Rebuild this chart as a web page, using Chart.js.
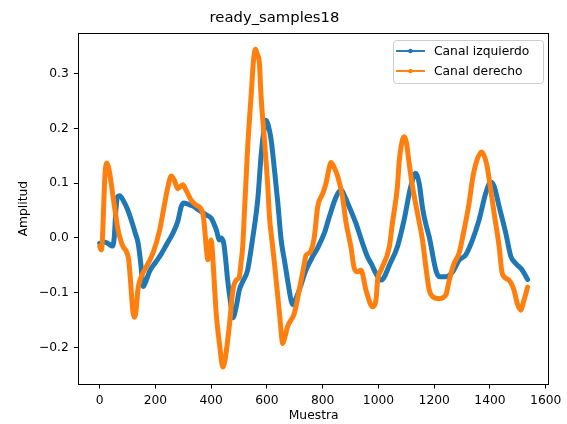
<!DOCTYPE html>
<html lang="es">
<head>
<meta charset="UTF-8">
<title>ready_samples18</title>
<script src="https://cdn.jsdelivr.net/npm/chart.js"></script>
<style>
    body {
        margin: 0;
        background: #ffffff;
    }

    #wrap {
        width: 567px;
        height: 424px;
    }
</style>
</head>
<body>
<div id="wrap">
    <canvas id="senal" width="567" height="424"></canvas>
</div>
<script>
    // Canal izquierdo: índice de muestra y amplitud
    const muestrasIzq = [
        0, 20, 35, 45, 52, 58, 64, 72, 85, 100,
        115, 128, 138, 148, 156, 165, 180, 200, 220, 240,
        262, 280, 293, 302, 315, 335, 358, 382, 400, 418,
        430, 436, 445, 452, 459, 470, 478, 490, 501, 515,
        530, 549, 567, 579, 590, 597, 605, 615, 627, 639,
        651, 664, 674, 687, 693, 705, 716, 740, 764, 781,
        806, 824, 848, 866, 880, 895, 919, 943, 961, 975,
        991, 1009, 1020, 1039, 1068, 1092, 1116, 1134, 1146, 1158,
        1170, 1182, 1206, 1218, 1242, 1266, 1289, 1313, 1337, 1361,
        1385, 1403, 1415, 1433, 1457, 1475, 1493, 1516, 1535
    ];
    const canalIzquierdo = [
        -0.010, -0.008, -0.012, -0.015, 0.000, 0.050, 0.075, 0.077, 0.068, 0.052,
        0.030, 0.008, -0.010, -0.050, -0.089, -0.080, -0.060, -0.045, -0.030, -0.012,
        0.008, 0.030, 0.058, 0.064, 0.062, 0.058, 0.050, 0.042, 0.036, 0.015,
        -0.004, 0.000, -0.010, -0.040, -0.077, -0.120, -0.146, -0.125, -0.095, -0.078,
        -0.060, 0.000, 0.070, 0.150, 0.200, 0.215, 0.205, 0.179, 0.124, 0.064,
        -0.004, -0.045, -0.077, -0.115, -0.122, -0.110, -0.095, -0.059, -0.034, -0.019,
        0.009, 0.039, 0.075, 0.088, 0.075, 0.057, 0.027, -0.010, -0.035, -0.048,
        -0.065, -0.077, -0.072, -0.050, -0.016, 0.033, 0.094, 0.118, 0.100, 0.055,
        0.025, 0.002, -0.059, -0.071, -0.071, -0.062, -0.041, -0.031, -0.004, 0.033,
        0.082, 0.102, 0.094, 0.057, 0.008, -0.034, -0.047, -0.059, -0.076
    ];

    // Canal derecho
    const muestrasDer = [
        0, 5, 9, 13, 17, 21, 25, 30, 36, 48,
        58, 66, 76, 84, 96, 104, 110, 115, 120, 125,
        131, 137, 149, 167, 191, 215, 233, 245, 257, 268,
        280, 290, 298, 310, 328, 346, 370, 376, 382, 388,
        394, 400, 405, 412, 418, 430, 442, 452, 466, 478,
        490, 501, 507, 513, 519, 525, 531, 543, 552, 559,
        566, 573, 579, 591, 603, 609, 618, 627, 645, 657,
        665, 674, 698, 716, 734, 740, 755, 770, 782, 800,
        812, 822, 830, 840, 854, 871, 884, 901, 913, 925,
        937, 955, 973, 979, 991, 997, 1009, 1039, 1050, 1068,
        1074, 1084, 1092, 1100, 1110, 1122, 1140, 1158, 1170, 1182,
        1194, 1218, 1242, 1254, 1271, 1289, 1307, 1325, 1337, 1352,
        1370, 1388, 1403, 1415, 1433, 1444, 1468, 1486, 1498, 1510,
        1522, 1535
    ];
    const canalDerecho = [
        -0.015, -0.022, -0.010, 0.040, 0.095, 0.128, 0.137, 0.132, 0.118, 0.075,
        0.040, 0.014, -0.005, -0.016, -0.025, -0.040, -0.075, -0.110, -0.138, -0.145,
        -0.130, -0.095, -0.071, -0.053, -0.028, 0.014, 0.063, 0.094, 0.113, 0.105,
        0.090, 0.094, 0.097, 0.087, 0.069, 0.060, 0.045, 0.020, -0.016, -0.040,
        -0.020, -0.004, -0.030, -0.090, -0.138, -0.195, -0.236, -0.215, -0.156, -0.095,
        -0.077, -0.071, -0.045, -0.016, 0.045, 0.106, 0.167, 0.258, 0.325, 0.345,
        0.335, 0.319, 0.258, 0.179, 0.094, 0.039, -0.005, -0.047, -0.138, -0.193,
        -0.180, -0.162, -0.138, -0.095, -0.047, -0.032, -0.026, 0.002, 0.057, 0.081,
        0.100, 0.125, 0.138, 0.130, 0.112, 0.075, 0.027, -0.016, -0.055, -0.062,
        -0.059, -0.095, -0.123, -0.126, -0.114, -0.077, -0.059, -0.016, 0.027, 0.094,
        0.137, 0.175, 0.185, 0.175, 0.137, 0.094, 0.045, -0.004, -0.053, -0.095,
        -0.107, -0.111, -0.104, -0.077, -0.047, -0.028, 0.014, 0.063, 0.106, 0.140,
        0.157, 0.135, 0.087, 0.045, -0.016, -0.065, -0.077, -0.095, -0.120, -0.132,
        -0.114, -0.090
    ];

    const ticksX = [0, 200, 400, 600, 800, 1000, 1200, 1400, 1600];
    const ticksY = [-0.2, -0.1, 0.0, 0.1, 0.2, 0.3];

    const AZUL = '#1f77b4';
    const NARANJA = '#ff7f0e';
    const FUENTE = '"DejaVu Sans", sans-serif';

    function puntos(xs, ys) {
        return xs.map((x, i) => ({ x: x, y: ys[i] }));
    }

    // marco completo de los ejes + leyenda dentro del área
    const marcoYLeyenda = {
        id: 'marcoYLeyenda',
        afterDraw(chart) {
            const { ctx, chartArea: a } = chart;
            ctx.save();
            ctx.strokeStyle = '#000';
            ctx.lineWidth = 1;
            ctx.strokeRect(Math.round(a.left) + 0.5, Math.round(a.top) + 0.5,
                Math.round(a.right - a.left) - 1, Math.round(a.bottom - a.top));

            const bx = 393, by = 40, bw = 150, bh = 43;
            ctx.beginPath();
            ctx.roundRect(bx + 0.5, by + 0.5, bw, bh, 3);
            ctx.fillStyle = 'rgba(255,255,255,0.8)';
            ctx.fill();
            ctx.strokeStyle = '#cccccc';
            ctx.stroke();

            const filas = [
                { texto: 'Canal izquierdo', color: AZUL, y: 51 },
                { texto: 'Canal derecho', color: NARANJA, y: 71 }
            ];
            ctx.font = '12.3px ' + FUENTE;
            ctx.textBaseline = 'middle';
            filas.forEach(f => {
                ctx.strokeStyle = f.color;
                ctx.lineWidth = 1.9;
                ctx.beginPath();
                ctx.moveTo(396, f.y);
                ctx.lineTo(425, f.y);
                ctx.stroke();
                ctx.fillStyle = f.color;
                ctx.beginPath();
                ctx.arc(410.5, f.y, 2.3, 0, Math.PI * 2);
                ctx.fill();
                ctx.fillStyle = '#000';
                ctx.fillText(f.texto, 434, f.y + 0.5);
            });
            ctx.restore();
        }
    };

    const ctx = document.getElementById('senal').getContext('2d');
    new Chart(ctx, {
        type: 'line',
        data: {
            datasets: [{
                label: 'Canal izquierdo',
                data: puntos(muestrasIzq, canalIzquierdo),
                borderColor: AZUL,
                borderWidth: 5,
                pointRadius: 0,
                cubicInterpolationMode: 'monotone',
                borderJoinStyle: 'round',
                borderCapStyle: 'round',
                order: 2
            }, {
                label: 'Canal derecho',
                data: puntos(muestrasDer, canalDerecho),
                borderColor: NARANJA,
                borderWidth: 5,
                pointRadius: 0,
                cubicInterpolationMode: 'monotone',
                borderJoinStyle: 'round',
                borderCapStyle: 'round',
                order: 1
            }]
        },
        options: {
            responsive: false,
            animation: false,
            layout: { padding: { left: 0, right: 18, top: 0, bottom: 0 } },
            plugins: {
                legend: { display: false },
                tooltip: { enabled: false },
                title: {
                    display: true,
                    text: 'ready_samples18',
                    color: '#000',
                    font: { family: FUENTE, size: 14.8, weight: 'normal' },
                    padding: { top: 9.5, bottom: 6 }
                }
            },
            scales: {
                x: {
                    type: 'linear',
                    min: -76.75,
                    max: 1611.75,
                    afterBuildTicks: s => { s.ticks = ticksX.map(v => ({ value: v })); },
                    afterFit: s => { s.height = 40; },
                    border: { display: false },
                    grid: { drawOnChartArea: false, drawTicks: true, tickLength: 4.5, color: '#000' },
                    ticks: {
                        color: '#000',
                        padding: 5,
                        maxRotation: 0,
                        font: { family: FUENTE, size: 12.3 },
                        callback: v => String(v)
                    },
                    title: {
                        display: true,
                        text: 'Muestra',
                        color: '#000',
                        font: { family: FUENTE, size: 12.3 },
                        padding: { top: 0, bottom: 0.5 }
                    }
                },
                y: {
                    type: 'linear',
                    min: -0.267,
                    max: 0.374,
                    afterBuildTicks: s => { s.ticks = ticksY.map(v => ({ value: v })); },
                    afterFit: s => { s.width = 78.3; },
                    border: { display: false },
                    grid: { drawOnChartArea: false, drawTicks: true, tickLength: 4.5, color: '#000' },
                    ticks: {
                        color: '#000',
                        padding: 5,
                        font: { family: FUENTE, size: 12.3 },
                        callback: v => v.toFixed(1).replace('-', '\u2212')
                    },
                    title: {
                        display: true,
                        text: 'Amplitud',
                        color: '#000',
                        font: { family: FUENTE, size: 12.3 },
                        padding: { top: 16.6, bottom: 0 }
                    }
                }
            }
        },
        plugins: [marcoYLeyenda]
    });
</script>
</body>
</html>
